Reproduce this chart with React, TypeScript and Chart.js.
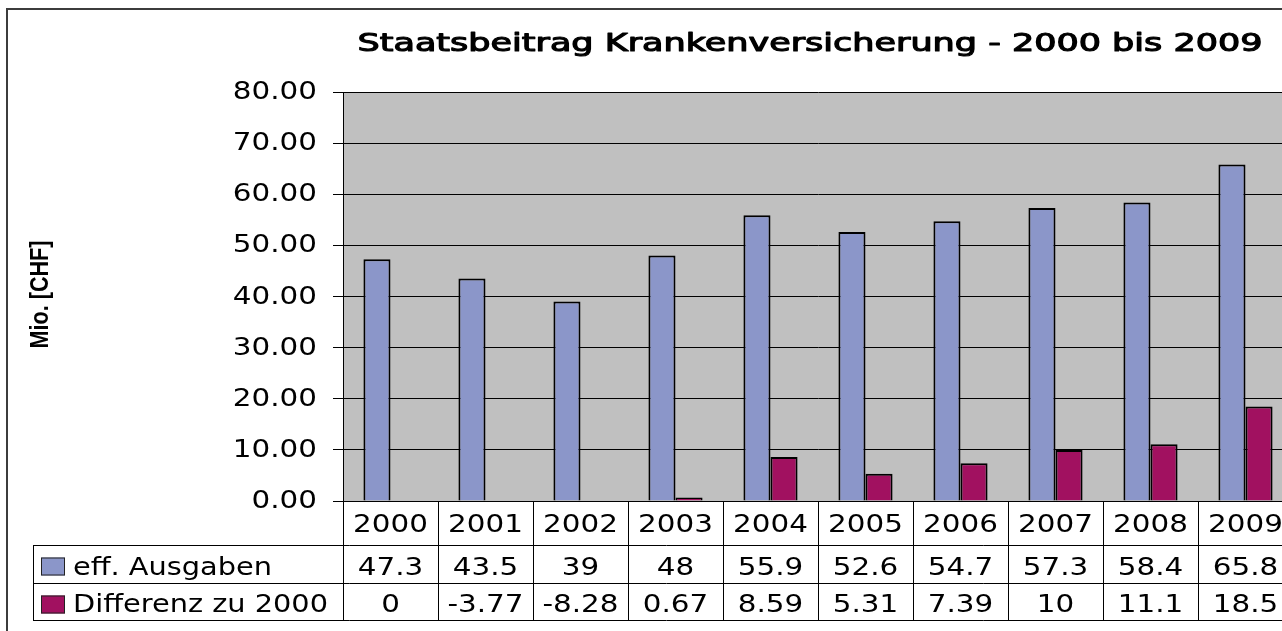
import { useEffect, useRef } from 'react';
import { Chart, registerables } from 'chart.js';

Chart.register(...registerables);

// ---- data ----
const CATEGORIES = ['2000', '2001', '2002', '2003', '2004', '2005', '2006', '2007', '2008', '2009'];
const SERIES_NAMES = ['eff. Ausgaben', 'Differenz zu 2000'];
const SPENDING = [47.3, 43.5, 39, 48, 55.9, 52.6, 54.7, 57.3, 58.4, 65.8];
const DIFFERENCE = [0, -3.77, -8.28, 0.67, 8.59, 5.31, 7.39, 10, 11.1, 18.5];
const Y_TICKS = [0, 10, 20, 30, 40, 50, 60, 70, 80];
const TITLE = 'Staatsbeitrag Krankenversicherung - 2000 bis 2009';
const Y_LABEL = 'Mio. [CHF]';

// ---- style ----
const BLUE = '#8b96c9';
const PLUM = '#a11160';
const PLOT_BG = '#c0c0c0';
const SX = 1.2; // horizontal stretch of the original picture
const FONT = '"DejaVu Sans", Verdana, sans-serif';

const CANVAS_W = 1300;
const CANVAS_H = 631;

export default function App() {
  const ref = useRef<HTMLCanvasElement>(null);

  useEffect(() => {
    const canvas = ref.current;
    if (!canvas) return;

    const stretchText = (
      ctx: CanvasRenderingContext2D,
      text: string,
      x: number,
      y: number,
      align: CanvasTextAlign,
      font: string,
      sx = SX,
      embolden = 0
    ) => {
      ctx.save();
      ctx.translate(x, y);
      ctx.scale(sx, 1);
      ctx.font = font;
      ctx.textAlign = align;
      ctx.textBaseline = 'alphabetic';
      ctx.fillStyle = '#000';
      ctx.fillText(text, 0, 0);
      if (embolden > 0) {
        ctx.strokeStyle = '#000';
        ctx.lineWidth = embolden;
        ctx.lineJoin = 'round';
        ctx.strokeText(text, 0, 0);
      }
      ctx.restore();
    };

    const bgPlugin = {
      id: 'plotBg',
      beforeDraw(chart: any) {
        const { ctx, chartArea } = chart;
        ctx.save();
        ctx.fillStyle = PLOT_BG;
        ctx.fillRect(chartArea.left, chartArea.top, chartArea.right - chartArea.left, chartArea.bottom - chartArea.top);
        ctx.restore();
      },
    };

    const tablePlugin = {
      id: 'excelTable',
      afterDraw(chart: any) {
        const { ctx, chartArea } = chart;
        const xs = chart.scales.x;
        const ys = chart.scales.y;
        const n = CATEGORIES.length;
        const cw = (xs.right - xs.left) / n;

        const headerBottom = 545;
        const row1Bottom = 583;
        const tableBottom = 620;
        const legendLeft = 33;

        ctx.save();
        // outer frame
        ctx.strokeStyle = '#3c3c3c';
        ctx.lineWidth = 2;
        ctx.strokeRect(7, 9, CANVAS_W + 50, CANVAS_H + 50);

        // title
        const titleFont = `24.5px ${FONT}`;
        ctx.font = titleFont;
        const tw = ctx.measureText(TITLE).width;
        stretchText(ctx, TITLE, 810, 51, 'center', titleFont, 905 / tw, 1.1);

        // y axis title (rotated)
        ctx.save();
        ctx.translate(48, (chartArea.top + chartArea.bottom) / 2 - 2);
        ctx.rotate(-Math.PI / 2);
        ctx.scale(1, SX);
        ctx.font = 'bold 21.6px "Liberation Sans", Arial, sans-serif';
        ctx.textAlign = 'center';
        ctx.textBaseline = 'alphabetic';
        ctx.fillStyle = '#000';
        ctx.fillText(Y_LABEL, 0, 0);
        ctx.restore();

        // y tick labels
        Y_TICKS.forEach((v) => {
          const y = ys.getPixelForValue(v);
          stretchText(ctx, v.toFixed(2), 317, y + 7, 'right', `24.5px ${FONT}`);
        });

        // table lines
        ctx.strokeStyle = '#000';
        ctx.lineWidth = 1;
        ctx.beginPath();
        for (let i = 0; i <= n; i++) {
          const x = Math.round(xs.getPixelForValue(Math.min(i, n - 1)) + (i === n ? cw / 2 : -cw / 2)) + 0.5;
          ctx.moveTo(x, chartArea.bottom);
          ctx.lineTo(x, tableBottom);
        }
        [headerBottom, row1Bottom, tableBottom].forEach((y) => {
          ctx.moveTo(legendLeft, y + 0.5);
          ctx.lineTo(CANVAS_W, y + 0.5);
        });
        ctx.moveTo(legendLeft + 0.5, headerBottom);
        ctx.lineTo(legendLeft + 0.5, tableBottom + 1);
        ctx.stroke();

        // header and values
        const cellFont = `24.5px ${FONT}`;
        CATEGORIES.forEach((c, i) => {
          const cx = xs.getPixelForValue(i);
          stretchText(ctx, c, cx, 531.5, 'center', cellFont);
          stretchText(ctx, String(SPENDING[i]), cx, 575, 'center', cellFont);
          stretchText(ctx, String(DIFFERENCE[i]), cx, 611.5, 'center', cellFont);
        });

        // legend keys
        const colors = [BLUE, PLUM];
        const rowsTop = [headerBottom, row1Bottom];
        SERIES_NAMES.forEach((name, k) => {
          const top = rowsTop[k] + 12.5;
          ctx.fillStyle = colors[k];
          ctx.fillRect(41, top, 24, 18);
          ctx.strokeStyle = '#222';
          ctx.lineWidth = 1;
          ctx.strokeRect(41.5, top + 0.5, 23, 17);
          stretchText(ctx, name, 73, k === 0 ? 575 : 611.5, 'left', `24px ${FONT}`);
        });
        ctx.restore();
      },
    };

    const chart = new Chart(canvas, {
      type: 'bar',
      data: {
        labels: CATEGORIES,
        datasets: [
          {
            label: SERIES_NAMES[0],
            data: SPENDING,
            backgroundColor: BLUE,
            borderColor: '#000',
            borderWidth: 2,
            borderSkipped: 'start',
            categoryPercentage: 0.57,
            barPercentage: 1,
            clip: { left: 5, top: 5, right: 5, bottom: 0 },
          },
          {
            label: SERIES_NAMES[1],
            data: DIFFERENCE,
            backgroundColor: PLUM,
            borderColor: '#000',
            borderWidth: 2,
            borderSkipped: 'start',
            categoryPercentage: 0.57,
            barPercentage: 1,
            clip: { left: 5, top: 5, right: 5, bottom: 0 },
          },
        ],
      },
      options: {
        responsive: false,
        animation: false,
        devicePixelRatio: 1,
        events: [],
        layout: { padding: { left: 333, right: CANVAS_W - 1293, top: 92, bottom: CANVAS_H - 501 } },
        plugins: {
          legend: { display: false },
          title: { display: false },
          tooltip: { enabled: false },
        },
        scales: {
          x: {
            type: 'category',
            offset: true,
            grid: { display: false, drawTicks: false },
            border: { display: true, color: '#000', width: 1 },
            ticks: { display: false },
            afterFit: (s: any) => {
              s.height = 0;
            },
          },
          y: {
            min: 0,
            max: 80,
            ticks: { display: false, stepSize: 10 },
            grid: { color: '#000', lineWidth: 1, tickLength: 10, drawTicks: true, tickColor: '#000' },
            border: { display: true, color: '#000', width: 1 },
            afterFit: (s: any) => {
              s.width = 10;
            },
          },
        },
      },
      plugins: [bgPlugin, tablePlugin],
    } as any);

    return () => chart.destroy();
  }, []);

  return (
    <div
      style={{
        position: 'fixed',
        left: 0,
        top: 0,
        width: 1282,
        height: 631,
        overflow: 'hidden',
        background: '#fff',
      }}
    >
      <canvas
        ref={ref}
        width={CANVAS_W}
        height={CANVAS_H}
        style={{ width: `${CANVAS_W}px`, height: `${CANVAS_H}px`, display: 'block' }}
      />
    </div>
  );
}
